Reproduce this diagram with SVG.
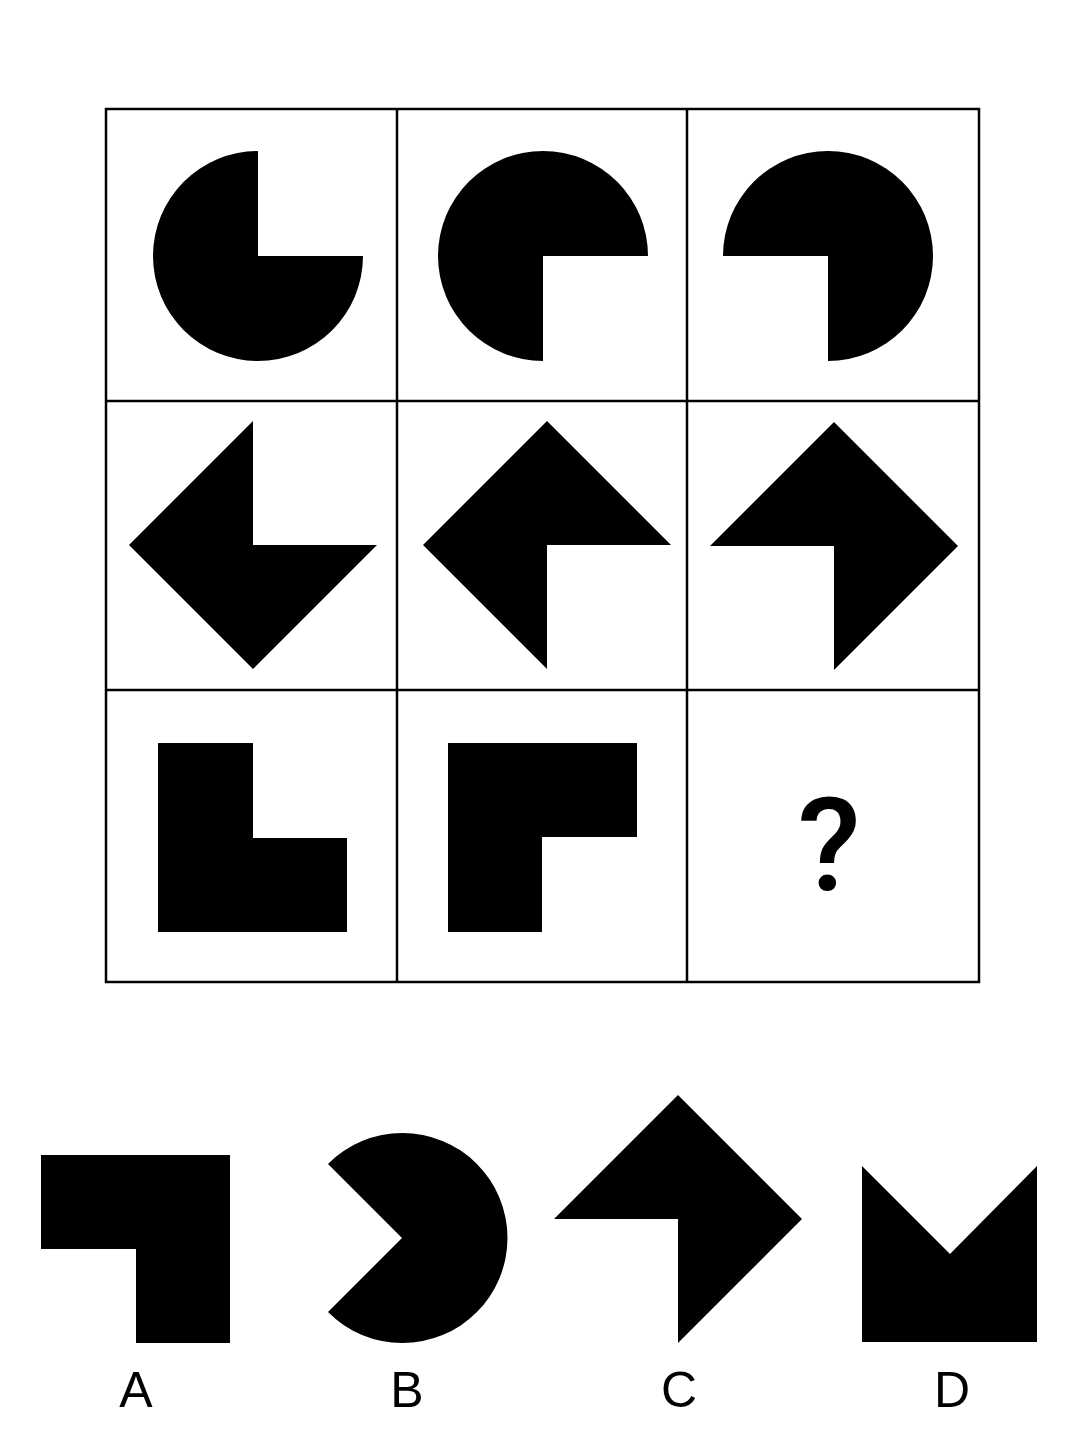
<svg xmlns="http://www.w3.org/2000/svg" width="1086" height="1436" viewBox="0 0 1086 1436">
<style>
.grid{fill:none;stroke:#000;stroke-width:2.5}
.s{fill:#000}
.lbl{font-family:"Liberation Sans",Arial,sans-serif;font-size:50px;fill:#000;text-anchor:middle}
.q{font-family:Roboto,"Liberation Sans",sans-serif;font-size:130px;font-weight:500;fill:#000;text-anchor:middle}
</style>
<rect width="1086" height="1436" fill="#fff"/>
<g id="grid">
<rect class="grid" x="106" y="109" width="873" height="873"/>
<line class="grid" x1="397" y1="109" x2="397" y2="982"/>
<line class="grid" x1="687" y1="109" x2="687" y2="982"/>
<line class="grid" x1="106" y1="401" x2="979" y2="401"/>
<line class="grid" x1="106" y1="690" x2="979" y2="690"/>
</g>
<g id="r1c1"><path class="s" d="M258,256 L258,151 A105,105 0 1 0 363,256 Z"/></g>
<g id="r1c2"><path class="s" d="M543,256 L648,256 A105,105 0 1 0 543,361 Z"/></g>
<g id="r1c3"><path class="s" d="M828,256 L828,361 A105,105 0 1 0 723,256 Z"/></g>
<g id="r2c1"><polygon class="s" points="253,421 253,545 377,545 253,669 129,545"/></g>
<g id="r2c2"><polygon class="s" points="547,421 671,545 547,545 547,669 423,545"/></g>
<g id="r2c3"><polygon class="s" points="834,422 958,546 834,670 834,546 710,546"/></g>
<g id="r3c1"><polygon class="s" points="158,743 253,743 253,838 347,838 347,932 158,932"/></g>
<g id="r3c2"><polygon class="s" points="448,743 637,743 637,837 542,837 542,932 448,932"/></g>
<g id="r3c3"><text class="q" x="829" y="890">?</text></g>
<g id="optA"><polygon class="s" points="41,1155 230,1155 230,1343 136,1343 136,1249 41,1249"/><text class="lbl" x="136" y="1407">A</text></g>
<g id="optB"><path class="s" d="M402,1238 L328,1164 A105,105 0 1 1 328,1312 Z"/><text class="lbl" x="407" y="1407">B</text></g>
<g id="optC"><polygon class="s" points="678,1095 802,1219 678,1343 678,1219 554,1219"/><text class="lbl" x="679" y="1407">C</text></g>
<g id="optD"><polygon class="s" points="862,1166 950,1254 1037,1166 1037,1342 862,1342"/><text class="lbl" x="952" y="1407">D</text></g>
</svg>
